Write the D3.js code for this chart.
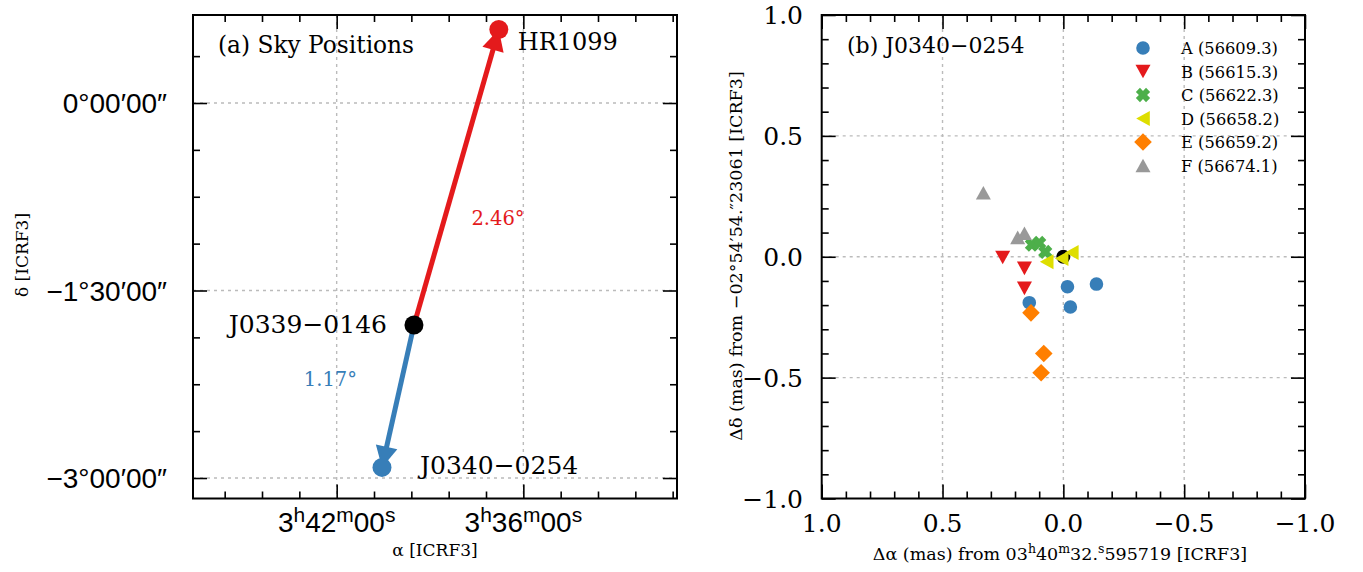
<!DOCTYPE html>
<html><head><meta charset="utf-8">
<script src="https://cdn.jsdelivr.net/npm/d3@7"></script>
<style>body{margin:0;background:#fff}svg{display:block}</style>
</head><body>
<svg id="c" width="1363" height="572"></svg>
<script>
// ---------- data ----------
const srcNames = ["HR1099", "J0339\u22120146", "J0340\u22120254"];
const srcRA = [3.613136, 3.658594, 3.675721];      // hours
const srcDec = [0.5878, -1.77661, -2.91506];       // degrees
const sepLabels = ["2.46\u00B0", "1.17\u00B0"];
const decTicks = [0, -1.5, -3];
const decTickLabels = ["0\u00B000\u203200\u2033", "\u22121\u00B030\u203200\u2033", "\u22123\u00B000\u203200\u2033"];
const decMinor = [0.375, -0.375, -0.75, -1.125, -1.875, -2.25, -2.625];
const raTicks = [3.7, 3.6];
const raTickLabels = [["3","h","42","m","00","s"], ["3","h","36","m","00","s"]];
const raMinor = [3.76, 3.74, 3.72, 3.68, 3.66, 3.64, 3.62, 3.58, 3.56, 3.54, 3.52];

const seriesNames = ["A (56609.3)", "B (56615.3)", "C (56622.3)", "D (56658.2)", "E (56659.2)", "F (56674.1)"];
const seriesColors = ["#377eb8", "#e41a1c", "#4daf4a", "#dede00", "#ff7f00", "#999999"];
const seriesShapes = ["circle", "triDown", "xfill", "triLeft", "diamond", "triUp"];
const seriesX = [
  [-0.017, -0.137, 0.141, -0.029],
  [0.251, 0.161, 0.161],
  [0.13, 0.10, 0.075],
  [0.069, 0.007, -0.035],
  [0.134, 0.081, 0.092],
  [0.331, 0.189, 0.161]
];
const seriesY = [
  [-0.124, -0.113, -0.19, -0.208],
  [-0.003, -0.048, -0.131],
  [0.05, 0.057, 0.02],
  [-0.021, -0.007, 0.018],
  [-0.232, -0.40, -0.48],
  [0.265, 0.08, 0.097]
];
const offTicks = [1, 0.5, 0, -0.5, -1];
const offTickLabels = ["1.0", "0.5", "0.0", "\u22120.5", "\u22121.0"];
const offMinor = d3.range(-10, 11).map(d => d / 10).filter(d => Math.abs(d * 2 - Math.round(d * 2)) > 1e-6);

// ---------- setup ----------
const svg = d3.select("#c");
const SERIF = "'DejaVu Serif', serif";
const SANS = "'Liberation Sans', Arial, sans-serif";
const gridStyle = s => s.attr("stroke", "#bbbbbb").attr("stroke-width", 1.4).attr("stroke-dasharray", "3,4").attr("fill", "none");

function frameAxes(g, x, y, xMaj, xMin, yMaj, yMin) {
  const [X0, X1] = x.range(), [Y0, Y1] = y.range();
  const tick = (sel) => sel.select(".domain").remove();
  const mk = (axisFn, scale, vals, size, tx, ty) => {
    g.append("g").attr("transform", `translate(${tx},${ty})`)
      .call(axisFn(scale).tickValues(vals).tickSize(size).tickFormat(""))
      .call(tick)
      .selectAll("line").attr("stroke", "#000").attr("stroke-width", 1.6);
  };
  mk(d3.axisBottom, x, xMaj, -14, 0, Math.max(Y0, Y1));
  mk(d3.axisBottom, x, xMin, -7, 0, Math.max(Y0, Y1));
  mk(d3.axisTop, x, xMaj, -14, 0, Math.min(Y0, Y1));
  mk(d3.axisTop, x, xMin, -7, 0, Math.min(Y0, Y1));
  mk(d3.axisLeft, y, yMaj, -14, Math.min(X0, X1), 0);
  mk(d3.axisLeft, y, yMin, -7, Math.min(X0, X1), 0);
  mk(d3.axisRight, y, yMaj, -14, Math.max(X0, X1), 0);
  mk(d3.axisRight, y, yMin, -7, Math.max(X0, X1), 0);
  g.append("rect").attr("x", Math.min(X0, X1)).attr("y", Math.min(Y0, Y1))
    .attr("width", Math.abs(X1 - X0)).attr("height", Math.abs(Y1 - Y0))
    .attr("fill", "none").attr("stroke", "#000").attr("stroke-width", 2);
}

// ---------- panel (a) ----------
const xL = d3.scaleLinear().domain([3.77697, 3.51768]).range([193, 677]);
const yL = d3.scaleLinear().domain([0.704, -3.164]).range([15, 498.5]);
const gA = svg.append("g");

raTicks.forEach(v => gA.append("line").attr("x1", xL(v)).attr("x2", xL(v)).attr("y1", 15).attr("y2", 498.5).call(gridStyle));
decTicks.forEach(v => gA.append("line").attr("x1", 193).attr("x2", 677).attr("y1", yL(v)).attr("y2", yL(v)).call(gridStyle));

const lineColors = ["#e41a1c", "#377eb8"];
const targets = [0, 2];
const cal = 1;
targets.forEach((t, i) => {
  const x0 = xL(srcRA[cal]), y0 = yL(srcDec[cal]);
  const x1 = xL(srcRA[t]), y1 = yL(srcDec[t]);
  const dx = x1 - x0, dy = y1 - y0, len = Math.hypot(dx, dy);
  const ux = dx / len, uy = dy / len;
  const hl = 21, hw = 11;
  const bx = x1 - ux * hl, by = y1 - uy * hl;
  gA.append("line").attr("x1", x0).attr("y1", y0).attr("x2", bx + ux * 2).attr("y2", by + uy * 2)
    .attr("stroke", lineColors[i]).attr("stroke-width", 5);
  gA.append("path").attr("d", `M${x1},${y1}L${bx - uy * hw},${by + ux * hw}L${bx + uy * hw},${by - ux * hw}Z`)
    .attr("fill", lineColors[i]);
});
const dotColors = ["#e41a1c", "#000000", "#377eb8"];
srcNames.forEach((n, i) => {
  gA.append("circle").attr("cx", xL(srcRA[i])).attr("cy", yL(srcDec[i])).attr("r", 9.5).attr("fill", dotColors[i]);
});
// source labels
const lblOff = [[19, 20, "start"], [-27, 8, "end"], [38, 7, "start"]];
const lblSize = [24, 25, 25];
srcNames.forEach((n, i) => {
  gA.append("text").attr("x", xL(srcRA[i]) + lblOff[i][0]).attr("y", yL(srcDec[i]) + lblOff[i][1])
    .attr("text-anchor", lblOff[i][2]).attr("font-family", SERIF).attr("font-size", lblSize[i]).attr("fill", "#000").text(n);
});
// separation labels
const sepOff = [[15, 48, "start"], [-41, -10, "end"]];
targets.forEach((t, i) => {
  const mx = (xL(srcRA[cal]) + xL(srcRA[t])) / 2, my = (yL(srcDec[cal]) + yL(srcDec[t])) / 2;
  gA.append("text").attr("x", mx + sepOff[i][0]).attr("y", my + sepOff[i][1]).attr("text-anchor", sepOff[i][2])
    .attr("font-family", SERIF).attr("font-size", 19.5).attr("fill", lineColors[i]).text(sepLabels[i]);
});
gA.append("text").attr("x", 218).attr("y", 53).attr("font-family", SERIF).attr("font-size", 23.3).text("(a) Sky Positions");

frameAxes(gA, xL, yL, raTicks, raMinor, decTicks, decMinor);

// tick labels (a)
decTicks.forEach((v, i) => {
  gA.append("text").attr("x", 167).attr("y", yL(v) + 10).attr("text-anchor", "end")
    .attr("font-family", SANS).attr("font-size", 28).text(decTickLabels[i]);
});
raTicks.forEach((v, i) => {
  const t = gA.append("text").attr("x", xL(v)).attr("y", 532).attr("text-anchor", "middle")
    .attr("font-family", SANS).attr("font-size", 28);
  raTickLabels[i].forEach((p, k) => {
    if (k % 2 === 0) t.append("tspan").attr("dy", k === 0 ? 0 : 10).text(p);
    else t.append("tspan").attr("dy", -10).attr("font-size", 21).text(p);
  });
});
gA.append("text").attr("x", 435).attr("y", 556).attr("text-anchor", "middle").attr("font-family", SERIF).attr("font-size", 17).text("\u03B1 [ICRF3]");
gA.append("text").attr("transform", "translate(28,255) rotate(-90)").attr("text-anchor", "middle").attr("font-family", SERIF).attr("font-size", 17).text("\u03B4 [ICRF3]");

// ---------- panel (b) ----------
const xR = d3.scaleLinear().domain([1, -1]).range([821.7, 1305]);
const yR = d3.scaleLinear().domain([-1, 1]).range([498.5, 15]);
const gB = svg.append("g");
[0.5, 0, -0.5].forEach(v => {
  gB.append("line").attr("x1", xR(v)).attr("x2", xR(v)).attr("y1", 15).attr("y2", 498.5).call(gridStyle);
  gB.append("line").attr("x1", 821.7).attr("x2", 1305).attr("y1", yR(v)).attr("y2", yR(v)).call(gridStyle);
});

function markerPath(shape) {
  switch (shape) {
    case "circle": return d3.symbol(d3.symbolCircle, Math.PI * 6.8 * 6.8)();
    case "triDown": return "M-7.5,-6.8L7.5,-6.8L0,6.8Z";
    case "triUp": return "M-7.5,6.8L7.5,6.8L0,-6.8Z";
    case "triLeft": return "M-6.8,0L6.8,-7.5L6.8,7.5Z";
    case "diamond": return "M0,-8.8L8.8,0L0,8.8L-8.8,0Z";
    case "xfill": {
      const a = 2.9, L = 7.2;
      const pts = [[-a,-L],[a,-L],[a,-a],[L,-a],[L,a],[a,a],[a,L],[-a,L],[-a,a],[-L,a],[-L,-a],[-a,-a]];
      const c = Math.SQRT1_2;
      return "M" + pts.map(([x, y]) => [(x - y) * c, (x + y) * c].map(v => v.toFixed(2)).join(",")).join("L") + "Z";
    }
  }
}
// origin reference
gB.append("circle").attr("cx", xR(0)).attr("cy", yR(0)).attr("r", 7).attr("fill", "#000");
seriesNames.forEach((n, s) => {
  seriesX[s].forEach((xv, k) => {
    gB.append("path").attr("d", markerPath(seriesShapes[s]))
      .attr("transform", `translate(${xR(xv)},${yR(seriesY[s][k])})`).attr("fill", seriesColors[s]);
  });
});
// legend
seriesNames.forEach((n, s) => {
  const y = 48 + s * 23.5;
  gB.append("path").attr("d", markerPath(seriesShapes[s])).attr("transform", `translate(1143,${y})`).attr("fill", seriesColors[s]);
  gB.append("text").attr("x", 1181).attr("y", y + 6).attr("font-family", SERIF).attr("font-size", 16.3).text(n);
});
gB.append("text").attr("x", 847).attr("y", 53).attr("font-family", SERIF).attr("font-size", 22).text("(b) J0340\u22120254");

frameAxes(gB, xR, yR, offTicks, offMinor, offTicks, offMinor);
offTicks.forEach((v, i) => {
  gB.append("text").attr("x", 803).attr("y", yR(v) + 9).attr("text-anchor", "end").attr("font-family", SERIF).attr("font-size", 25).text(offTickLabels[i]);
  gB.append("text").attr("x", xR(v)).attr("y", 532).attr("text-anchor", "middle").attr("font-family", SERIF).attr("font-size", 25).text(offTickLabels[i]);
});
const xlab = gB.append("text").attr("x", 1060).attr("y", 560).attr("text-anchor", "middle").attr("font-family", SERIF).attr("font-size", 17.5);
xlab.append("tspan").text("\u0394\u03B1 (mas) from 03");
xlab.append("tspan").attr("dy", -7).attr("font-size", 12.5).text("h");
xlab.append("tspan").attr("dy", 7).text("40");
xlab.append("tspan").attr("dy", -7).attr("font-size", 12.5).text("m");
xlab.append("tspan").attr("dy", 7).text("32.");
xlab.append("tspan").attr("dy", -7).attr("font-size", 12.5).text("s");
xlab.append("tspan").attr("dy", 7).text("595719 [ICRF3]");
gB.append("text").attr("transform", "translate(742,256) rotate(-90)").attr("text-anchor", "middle").attr("font-family", SERIF).attr("font-size", 17.5)
  .text("\u0394\u03B4 (mas) from \u221202\u00B054\u203254.\u203323061 [ICRF3]");
</script>
</body></html>
